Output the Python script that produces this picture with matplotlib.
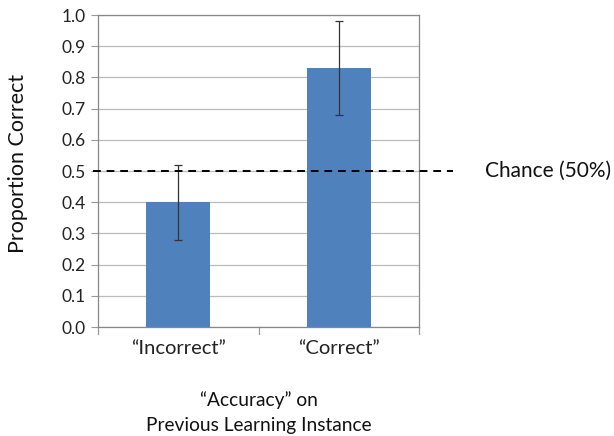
import matplotlib
matplotlib.use("Agg")
import matplotlib.pyplot as plt
import numpy as np

categories = ["\u201cIncorrect\u201d", "\u201cCorrect\u201d"]
proportion = [0.40, 0.83]
err_low = [0.28, 0.68]
err_high = [0.52, 0.98]
chance = 0.5
yticks = [0.0, 0.1, 0.2, 0.3, 0.4, 0.5, 0.6, 0.7, 0.8, 0.9, 1.0]

plt.rcParams['font.family'] = ['Lato', 'DejaVu Sans']

fig = plt.figure(figsize=(6.14, 4.36), dpi=100)
W, H = 614, 436
ax = fig.add_axes([98 / W, 1 - 327 / H, (419 - 98) / W, (327 - 15) / H])

x = np.arange(len(categories))
yerr = [np.array(proportion) - np.array(err_low), np.array(err_high) - np.array(proportion)]
ax.bar(x, proportion, width=0.4, color="#4F81BD", zorder=2)
ax.errorbar(x, proportion, yerr=yerr, fmt="none", ecolor="#333333", elinewidth=0.9,
            capsize=3, capthick=0.9, zorder=3)

ax.set_xlim(-0.5, 1.5)
ax.set_ylim(0, 1.0)
ax.set_yticks(yticks)
ax.set_yticklabels([f"{v:.1f}" for v in yticks], fontsize=12.5, color="#222222")
ax.set_xticks(x)
ax.set_xticklabels(categories, fontsize=14.5, color="#222222")
ax.tick_params(axis="x", length=0, pad=9)
ax.tick_params(axis="y", length=5, color="#999999", pad=4)
# category separators below the x axis
for b in [-0.5, 0.5, 1.5]:
    ax.plot([b, b], [0, -0.022], color="#999999", lw=0.9, clip_on=False)

ax.yaxis.grid(True, color="#BBBBBB", lw=0.9, zorder=0)
ax.set_axisbelow(True)
for s in ax.spines.values():
    s.set_color("#888888")
    s.set_linewidth(0.9)

# chance line extends beyond the axes toward its label
ax.plot([-0.53, 1.71], [chance, chance], ls=(0, (4, 3)), color="black", lw=1.4,
        clip_on=False, zorder=4)
ax.text(1.91, chance, "Chance (50%)", fontsize=15, va="center", ha="left",
        color="#111111", clip_on=False)

fig.text(18 / W, 1 - 163 / H, "Proportion Correct", rotation=90, fontsize=15.5,
         ha="center", va="center", color="#111111")
fig.text((98 + 419) / 2 / W, 1 - 400 / H, "\u201cAccuracy\u201d on",
         ha="center", va="center", fontsize=13.8, color="#111111")
fig.text((98 + 419) / 2 / W, 1 - 425 / H, "Previous Learning Instance",
         ha="center", va="center", fontsize=13.8, color="#111111")

fig.savefig("out.png", dpi=100)
